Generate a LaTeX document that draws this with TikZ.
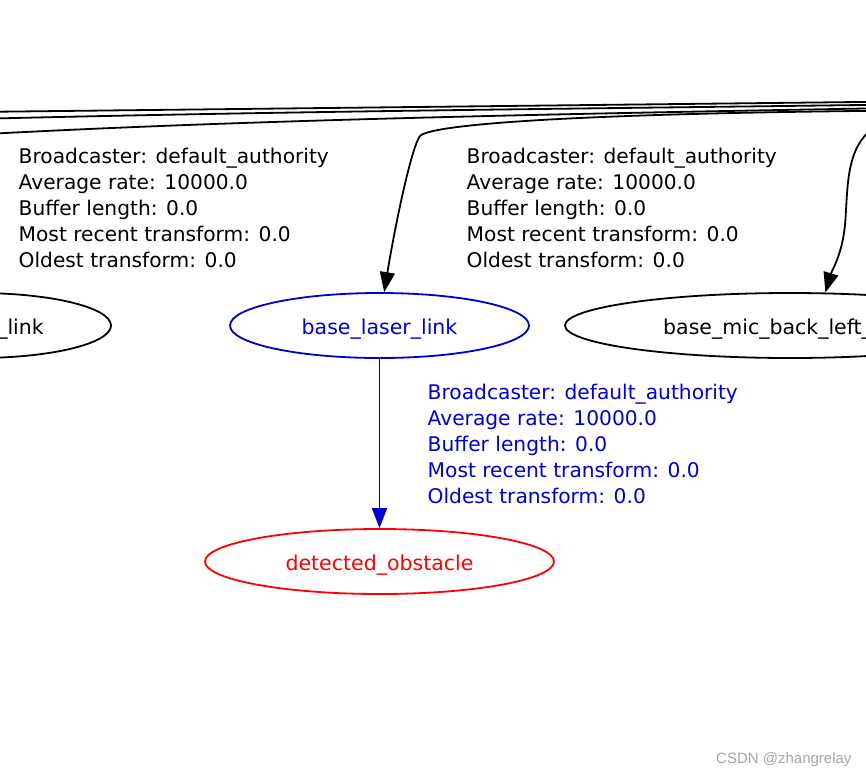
\documentclass[tikz,border=0pt]{standalone}
\usepackage{fontspec}
\setmainfont{DejaVu Sans}
\newfontfamily\wmfont{Liberation Sans}
\usetikzlibrary{arrows.meta,shapes.geometric}
\definecolor{edgeblue}{RGB}{0,0,205}
\definecolor{nodered}{RGB}{255,0,0}
\definecolor{wmgray}{RGB}{165,165,165}
\begin{document}
\begin{tikzpicture}[x=1pt,y=-1pt,
  tf/.style={ellipse, draw, line width=1.8pt, minimum height=65pt, inner sep=0pt,
             text height=21pt, text depth=4pt,
             font=\fontsize{20.5}{26}\selectfont},
  txt/.style={font=\fontsize{20.2}{26}\selectfont, inner sep=0pt, anchor=base west},
  conn/.style={line width=1.8pt},
  arr/.style={conn, -{Triangle[length=20pt,width=15pt]}}]
\useasboundingbox (0,0) rectangle (866,777);
\clip (0,0) rectangle (866,777);

% nodes
\node[tf, minimum width=267pt] (leftnode) at (-22.5,325.5) {};
\node[txt, anchor=base east, font=\fontsize{20.5}{26}\selectfont] (lefttext) at (44,334) {\_link};
\node[tf, draw=edgeblue, text=edgeblue, minimum width=299pt] (laser) at (379.5,325.5) {base\_laser\_link};
\node[tf, minimum width=450pt] (mic) at (790,325.5) {};
\node[txt, font=\fontsize{20.5}{26}\selectfont] (mictext) at (663,334) {base\_mic\_back\_left\_};
\node[tf, draw=nodered, text=nodered, minimum width=349pt] (det) at (379.5,561.5) {detected\_obstacle};

% off-canvas end points
\coordinate (l1a) at (-10,111.8); \coordinate (l1b) at (876,101.8);
\coordinate (l2a) at (-10,118.6); \coordinate (l2b) at (876,104.8);
\coordinate (l3a) at (-10,133.8); \coordinate (l3b) at (876,108.3);
\coordinate (lsa) at (876,110.8);
\coordinate (mca) at (872,129);

% connectors
\draw[conn] (l1a) -- (l1b);
\draw[conn] (l2a) .. controls (300,111) and (600,108.5) .. (l2b);
\draw[conn] (l3a) .. controls (250,120) and (550,114) .. (l3b);
\draw[arr] (lsa) .. controls (560,114) and (430,125) .. (420,136)
   .. controls (412,146) and (396,220) .. (laser.82);
\draw[arr] (mca) .. controls (845,150) and (848,190) .. (845,225)
   .. controls (842,255) and (832,270) .. (mic.43);
\draw[arr, draw=edgeblue] (laser) -- (det);

% edge labels
\foreach \t [count=\i from 0] in {Broadcaster: default\_authority,Average rate: 10000.0,Buffer length: 0.0,Most recent transform: 0.0,Oldest transform: 0.0}{
  \node[txt] (la\i) at (18.5,{163+26*\i}) {\t};
  \node[txt] (lb\i) at (466.5,{163+26*\i}) {\t};
  \node[txt, text=edgeblue] (lc\i) at (427.5,{399+26*\i}) {\t};
}

% watermark
\node[inner sep=0pt, anchor=base west, text=wmgray, font=\wmfont\fontsize{15}{18}\selectfont] (wm) at (716,763.5) {CSDN @zhangrelay};
\end{tikzpicture}
\end{document}
